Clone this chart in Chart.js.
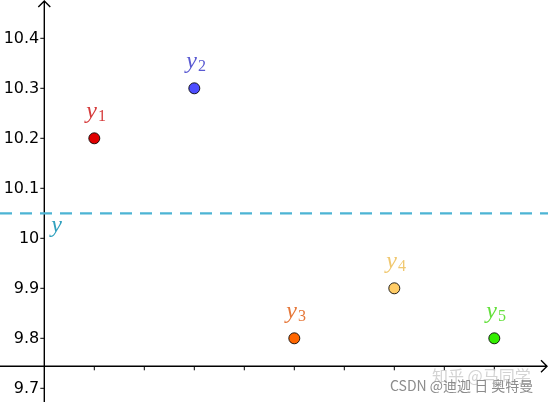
<!DOCTYPE html>
<html>
<head>
<meta charset="utf-8">
<script src="https://cdn.jsdelivr.net/npm/chart.js@4"></script>
<style>
    body { margin: 0; background: #fff; overflow: hidden; }
    canvas { display: block; }
</style>
</head>
<body>
<canvas id="chart" width="548" height="402"></canvas>
<script>
// data
let pointIndex = ['1', '2', '3', '4', '5'];
let xValues = [1, 3, 5, 7, 9];
let yValues = [10.2, 10.3, 9.8, 9.9, 9.8];
let meanValue = 10.05;
let yTicks = [9.7, 9.8, 9.9, 10, 10.1, 10.2, 10.3, 10.4];
let xTicks = [1, 2, 3, 4, 5, 6, 7, 8, 9];

// view window of the plot
let xMin = -0.886, xMax = 10.074;
let yMin = 9.6726, yMax = 10.4766;
let xAxisAt = 9.744;

// colours
let pointColors = ['#e00000', '#4d4dff', '#ff6600', '#ffcc66', '#33ee00'];
let labelColors = ['#d63c3c', '#5a5ad2', '#e6783a', '#f0c870', '#64e03c'];
let meanColor = '#4cb4d4';
let meanLabelColor = '#30a0be';

function points() {
    let arr = [];
    for (let i in xValues) {
        arr.push({ x: xValues[i], y: yValues[i] });
    }
    return arr;
}

let axesPlugin = {
    id: 'axes',
    beforeDatasetsDraw: function (chart) {
        let ctx = chart.ctx;
        let xs = chart.scales.x;
        let ys = chart.scales.y;
        let area = chart.chartArea;
        let x0 = xs.getPixelForValue(0);
        let y0 = ys.getPixelForValue(xAxisAt);

        ctx.save();
        ctx.strokeStyle = '#000';
        ctx.lineWidth = 1.4;

        // y axis with arrow
        ctx.beginPath();
        ctx.moveTo(x0, area.bottom);
        ctx.lineTo(x0, area.top + 1);
        ctx.moveTo(x0 - 6, area.top + 7);
        ctx.lineTo(x0, area.top + 1);
        ctx.lineTo(x0 + 6, area.top + 7);
        // x axis with arrow
        ctx.moveTo(area.left, y0);
        ctx.lineTo(area.right - 1, y0);
        ctx.moveTo(area.right - 7, y0 - 6);
        ctx.lineTo(area.right - 1, y0);
        ctx.lineTo(area.right - 7, y0 + 6);
        ctx.stroke();

        // ticks
        ctx.lineWidth = 1;
        ctx.beginPath();
        for (let i in yTicks) {
            let py = ys.getPixelForValue(yTicks[i]);
            ctx.moveTo(x0 - 4, py);
            ctx.lineTo(x0, py);
        }
        for (let i in xTicks) {
            let px = xs.getPixelForValue(xTicks[i]);
            ctx.moveTo(px, y0);
            ctx.lineTo(px, y0 + 4);
        }
        ctx.stroke();

        // y tick labels
        ctx.fillStyle = '#000';
        ctx.font = '16px "DejaVu Sans"';
        ctx.textAlign = 'right';
        ctx.textBaseline = 'middle';
        for (let i in yTicks) {
            let py = ys.getPixelForValue(yTicks[i]);
            ctx.fillText(String(yTicks[i]), x0 - 5, py + 1);
        }

        // watermarks
        ctx.textAlign = 'left';
        ctx.textBaseline = 'alphabetic';
        ctx.font = '16px "Noto Sans CJK SC"';
        ctx.fillStyle = 'rgba(200,200,200,0.8)';
        ctx.fillText('知乎 @马同学', 432, 382);
        ctx.font = '14px "Noto Sans CJK SC"';
        ctx.fillStyle = '#8c8c8c';
        ctx.fillText('CSDN @迪迦 日 奥特曼', 390, 391);
        ctx.restore();
    },
    afterDatasetsDraw: function (chart) {
        let ctx = chart.ctx;
        let meta = chart.getDatasetMeta(0);
        ctx.save();
        ctx.textAlign = 'left';
        ctx.textBaseline = 'alphabetic';
        for (let i = 0; i < meta.data.length; i++) {
            let el = meta.data[i];
            ctx.fillStyle = labelColors[i];
            ctx.font = 'italic 24px "Liberation Serif"';
            ctx.fillText('y', el.x - 8, el.y - 20);
            let w = ctx.measureText('y').width;
            ctx.font = '16px "Liberation Serif"';
            ctx.fillText(pointIndex[i], el.x - 8 + w + 1, el.y - 17);
        }
        // label of the dashed line
        let ys = chart.scales.y;
        let xs = chart.scales.x;
        ctx.fillStyle = meanLabelColor;
        ctx.font = 'italic 24px "Liberation Serif"';
        ctx.fillText('y', xs.getPixelForValue(0) + 7, ys.getPixelForValue(meanValue) + 19);
        ctx.restore();
    }
};

let chart = new Chart(document.getElementById('chart'), {
    type: 'scatter',
    data: {
        datasets: [
            {
                label: 'y',
                data: points(),
                pointBackgroundColor: pointColors,
                pointBorderColor: 'rgba(0,0,0,0.85)',
                pointBorderWidth: 1,
                pointRadius: 5.5,
                pointHoverRadius: 5.5
            },
            {
                label: 'mean',
                type: 'line',
                data: [{ x: xMin, y: meanValue }, { x: xMax, y: meanValue }],
                borderColor: meanColor,
                borderWidth: 2.2,
                borderDash: [12, 8],
                pointRadius: 0,
                fill: false
            }
        ]
    },
    options: {
        responsive: false,
        animation: false,
        layout: { padding: 0, autoPadding: false },
        plugins: {
            legend: { display: false },
            tooltip: { enabled: false }
        },
        scales: {
            x: { type: 'linear', min: xMin, max: xMax, display: false },
            y: { type: 'linear', min: yMin, max: yMax, display: false }
        }
    },
    plugins: [axesPlugin]
});
</script>
</body>
</html>
